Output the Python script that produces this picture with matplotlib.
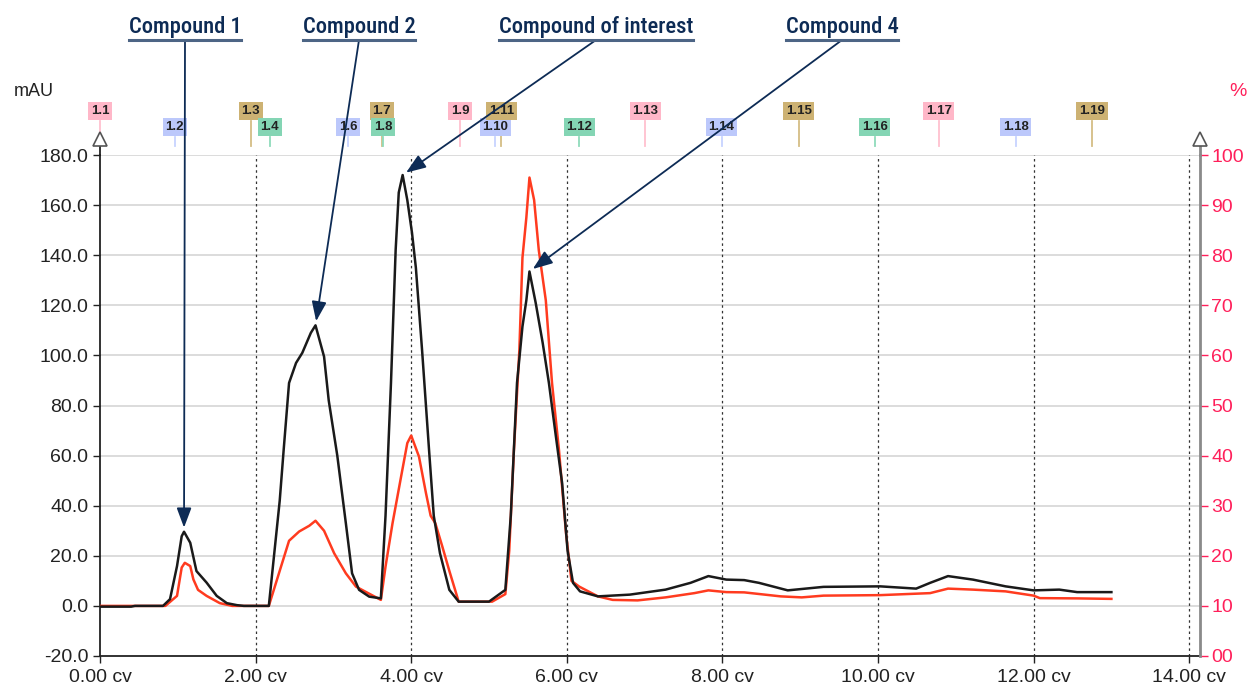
import os
import numpy as np
import matplotlib
matplotlib.use("Agg")
import matplotlib.pyplot as plt
import matplotlib.transforms as mtransforms
from matplotlib.lines import Line2D
from matplotlib import font_manager

# black trace (mAU)
black_cv = [0.00, 0.40, 0.45, 0.81, 0.90, 0.99, 1.05, 1.08, 1.16, 1.24, 1.37, 1.50, 1.63, 1.76, 1.85,
            2.17, 2.31, 2.36, 2.43, 2.52, 2.60, 2.71, 2.77, 2.88, 2.94, 3.05, 3.16, 3.24, 3.33, 3.46, 3.61,
            3.67, 3.74, 3.80, 3.84, 3.89, 3.95, 4.01, 4.06, 4.14, 4.23, 4.29, 4.37, 4.49, 4.61, 5.00,
            5.21, 5.28, 5.36, 5.43, 5.48, 5.52, 5.60, 5.69, 5.77, 5.86, 5.94, 6.01, 6.08, 6.17, 6.40,
            6.81, 7.27, 7.59, 7.82, 8.05, 8.28, 8.47, 8.84, 9.30, 10.03, 10.49, 10.67, 10.90, 11.22,
            11.64, 12.00, 12.33, 12.56, 13.00]
black_mau = [-0.3, -0.3, 0.0, 0.0, 2.7, 15.9, 27.8, 29.6, 25.2, 13.9, 9.3, 4.0, 1.1, 0.3, 0.0,
             0.0, 42.0, 62.0, 89.0, 97.0, 101.0, 109.0, 112.0, 99.5, 82.0, 60.0, 33.0, 13.0, 6.4, 3.7, 3.0,
             36.0, 89.0, 142.0, 165.0, 172.0, 162.0, 149.0, 135.0, 102.0, 62.0, 36.0, 21.0, 6.4, 1.7, 1.7,
             6.4, 36.0, 89.0, 111.5, 122.0, 133.5, 121.0, 105.0, 89.0, 67.6, 49.0, 22.0, 9.2, 5.8, 3.8,
             4.5, 6.5, 9.2, 11.9, 10.5, 10.3, 9.2, 6.2, 7.6, 7.8, 6.9, 9.2, 11.9, 10.5,
             7.8, 6.2, 6.5, 5.5, 5.5]

# red trace (same scale as mAU)
red_cv = [0.00, 0.84, 0.99, 1.05, 1.09, 1.16, 1.20, 1.26, 1.37, 1.54, 1.70,
          2.17, 2.30, 2.43, 2.56, 2.69, 2.77, 2.88, 3.01, 3.16, 3.29, 3.41, 3.61,
          3.67, 3.76, 3.87, 3.95, 4.00, 4.10, 4.19, 4.25, 4.31, 4.40, 4.49, 4.61, 5.04,
          5.21, 5.26, 5.32, 5.39, 5.43, 5.48, 5.52, 5.58, 5.64, 5.73, 5.81, 5.90, 5.99, 6.06, 6.16,
          6.40, 6.59, 6.91, 7.27, 7.64, 7.82, 8.05, 8.28, 8.75, 9.02, 9.30, 10.03, 10.67, 10.90,
          11.22, 11.64, 12.00, 12.08, 12.56, 13.00]
red_mau = [0.0, 0.0, 4.0, 15.3, 17.2, 15.9, 10.6, 6.4, 4.0, 1.1, 0.0,
           0.0, 13.0, 26.0, 29.7, 32.0, 34.0, 30.0, 21.0, 13.0, 7.7, 5.7, 2.4,
           15.7, 33.0, 51.6, 65.0, 68.0, 59.6, 45.0, 36.0, 33.0, 23.7, 14.0, 1.7, 1.7,
           4.7, 22.0, 62.0, 102.0, 139.0, 155.0, 171.0, 162.0, 142.0, 122.0, 89.0, 62.0, 29.0, 10.0, 7.7,
           3.8, 2.4, 2.2, 3.4, 5.1, 6.2, 5.5, 5.4, 3.8, 3.4, 4.1, 4.3, 5.1, 6.9,
           6.5, 5.8, 4.1, 3.1, 3.0, 2.8]

# fractions
frac_labels = ['1.1', '1.2', '1.3', '1.4', '1.6', '1.7', '1.8', '1.9', '1.10', '1.11',
               '1.12', '1.13', '1.14', '1.15', '1.16', '1.17', '1.18', '1.19']
frac_cv = [0.0, 0.96, 1.94, 2.18, 3.19, 3.62, 3.64, 4.63, 5.08, 5.16,
           6.16, 7.01, 7.99, 8.98, 9.96, 10.78, 11.77, 12.75]

# peak annotations
compounds = ['Compound 1', 'Compound 2', 'Compound of interest', 'Compound 4']
compound_cv = [1.08, 2.77, 3.89, 5.52]
label_x_px = [185, 359, 596, 842]   # centre of text in figure pixels

x_ticks = [0, 2, 4, 6, 8, 10, 12, 14]
y_ticks = [-20, 0, 20, 40, 60, 80, 100, 120, 140, 160, 180]
pct_ticks = [0, 10, 20, 30, 40, 50, 60, 70, 80, 90, 100]

W, H = 1249, 688
navy = '#0d2b55'
red = '#ff3b1f'
pink = '#ff1f5a'
box_cols = {1: '#ffb7c8', 2: '#bcc8fb', 3: '#cdb273', 0: '#84d5b4'}
line_cols = {1: '#ffc0cf', 2: '#c7d3ff', 3: '#d4bd85', 0: '#8fdbbb'}


def condensed_font():
    # look for a narrow/condensed face for the annotation labels
    prefs = ['robotocondensed-medium', 'robotocondensed-regular', 'robotocondensed',
             'liberationsansnarrow-regular', 'liberationsansnarrow',
             'opensans-condensedsemibold', 'opensans_condensed-semibold', 'opensans-condensedmedium',
             'opensanscondensed', 'dejavusanscondensed.ttf', 'dejavusanscondensed']
    files = [f.fname for f in font_manager.fontManager.ttflist]
    for p in prefs:
        for fn in files:
            b = os.path.basename(fn).lower().replace(' ', '')
            if b.startswith(p) and 'italic' not in b and 'oblique' not in b:
                return font_manager.FontProperties(fname=fn)
    for fn in files:
        b = os.path.basename(fn).lower()
        if ('condensed' in b or 'narrow' in b) and 'italic' not in b and 'oblique' not in b:
            return font_manager.FontProperties(fname=fn)
    return None


plt.rcParams['font.family'] = ['Liberation Sans', 'DejaVu Sans']

fig = plt.figure(figsize=(W / 100, H / 100), dpi=100)
ax = fig.add_axes([100 / W, 1 - 656 / H, 1100 / W, 501 / H])
ax.set_xlim(0, 1100 / 77.8)
ax.set_ylim(-20, 180)

for y in y_ticks[1:]:
    ax.axhline(y, color='#d2d2d2', lw=1.1, zorder=0)
for x in x_ticks[1:]:
    ax.axvline(x, color='#333333', lw=0.9, ls=(0, (2, 2.5)), zorder=0)

ax.plot(red_cv, red_mau, color=red, lw=1.8, zorder=3)
ax.plot(black_cv, black_mau, color='#1a1a1a', lw=1.8, zorder=4)

for s in ['top', 'right']:
    ax.spines[s].set_visible(False)
ax.spines['left'].set_color('#222222')
ax.spines['left'].set_linewidth(1.3)
ax.spines['bottom'].set_color('#222222')
ax.spines['bottom'].set_linewidth(1.3)

ax.set_xticks(x_ticks)
ax.set_xticklabels(['{:.2f} cv'.format(v) for v in x_ticks])
ax.set_yticks(y_ticks)
ax.set_yticklabels(['{:.1f}'.format(v) for v in y_ticks])
ax.tick_params(axis='both', labelsize=14, colors='#222222', length=5, width=1)
ax.tick_params(axis='x', pad=4)

# right axis
ax2 = ax.twinx()
ax2.set_ylim(0, 100)
for s in ['top', 'left', 'bottom']:
    ax2.spines[s].set_visible(False)
ax2.spines['right'].set_color('#8a8a8a')
ax2.spines['right'].set_linewidth(2)
ax2.set_yticks(pct_ticks)
ax2.set_yticklabels(['00'] + [str(v) for v in pct_ticks[1:]])
ax2.tick_params(axis='y', labelsize=14, colors=pink, length=6, width=1, pad=2)

# axis arrows on top of both spines
for xa, col in [(0, '#222222'), (1, '#8a8a8a')]:
    ax.plot([xa, xa], [1.0, 1.02], transform=ax.transAxes, color=col,
            lw=1.3 if xa == 0 else 2, clip_on=False)
    ax.plot([xa], [1.031], transform=ax.transAxes, marker='^', ms=10,
            mfc='white', mec='#555555', mew=1.2, clip_on=False)

# fraction markers
trans = mtransforms.blended_transform_factory(ax.transData, ax.transAxes)
for lab, xc in zip(frac_labels, frac_cv):
    n = int(lab.split('.')[1])
    grp = n % 4
    top_row = grp in (1, 3)
    ytxt = 1.088 if top_row else 1.056
    ax.plot([xc, xc], [1.017, ytxt - 0.02], transform=trans, color=line_cols[grp],
            lw=1.3, clip_on=False, zorder=1)
    ax.text(xc, ytxt, lab, transform=trans, ha='center', va='center', fontsize=9.5,
            fontweight='bold', color='#222222', clip_on=False, zorder=5,
            bbox=dict(boxstyle='square,pad=0.2', fc=box_cols[grp], ec='none'))

fig.text(14 / W, 1 - 92 / H, 'mAU', fontsize=13, color='#222222', va='center', ha='left')
fig.text(1247 / W, 1 - 92 / H, '%', fontsize=14, color=pink, va='center', ha='right')

# compound annotations
fp = condensed_font()
if fp is not None:
    fp.set_size(16.2)
else:
    fp = font_manager.FontProperties(family=['Roboto', 'DejaVu Sans'], size=14)

name_texts = []
peak_y = np.interp(compound_cv, black_cv, black_mau)
for name, xc, yc, lx in zip(compounds, compound_cv, peak_y, label_x_px):
    t = fig.text(lx / W, 1 - 33 / H, name, fontproperties=fp, color=navy, ha='center',
                 va='baseline')
    name_texts.append(t)
    ax.annotate('', xy=(xc, yc), xycoords='data',
                xytext=(lx / W, 1 - 40 / H), textcoords='figure fraction',
                arrowprops=dict(arrowstyle='-|>,head_length=0.8,head_width=0.3',
                                color=navy, lw=1.3, mutation_scale=15,
                                shrinkA=0, shrinkB=3), zorder=6)

fig.canvas.draw()
r = fig.canvas.get_renderer()
for t in name_texts:
    bb = t.get_window_extent(r)
    fig.add_artist(Line2D([bb.x0 / W, bb.x1 / W], [1 - 40 / H, 1 - 40 / H],
                          color='#4d6585', lw=2.2))

fig.savefig('out.png', dpi=100)
